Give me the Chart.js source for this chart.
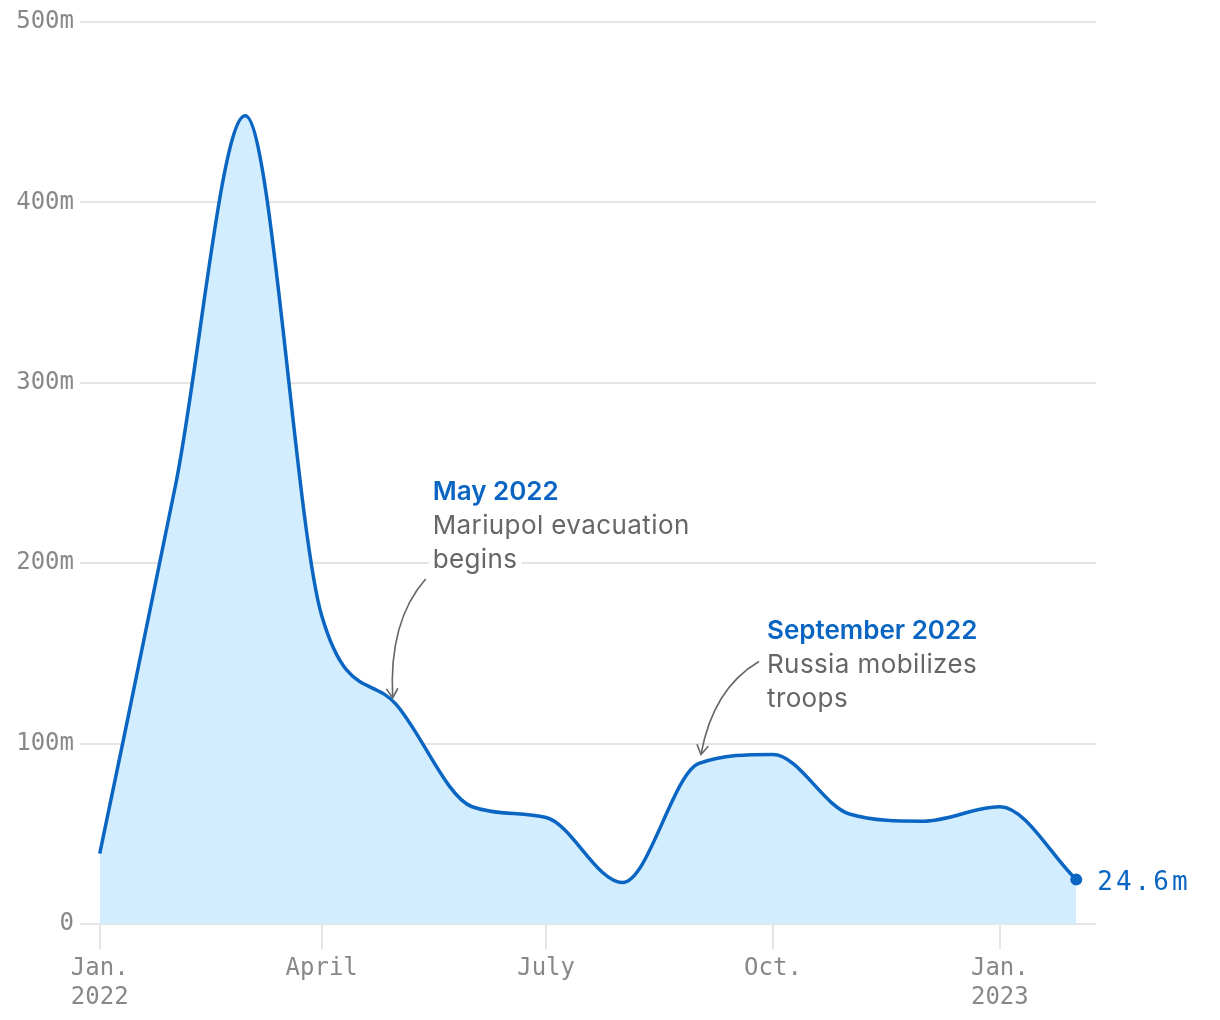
<!DOCTYPE html>
<html>
<head>
<meta charset="utf-8">
<script src="https://cdn.jsdelivr.net/npm/chart.js@4.4.0/dist/chart.umd.min.js"></script>
<style>
  html, body { margin: 0; padding: 0; background: #fff; }
  #wrap { width: 1220px; height: 1020px; position: relative; }
</style>
</head>
<body>
<div id="wrap"><canvas id="chart"></canvas></div>
<script>
// Monthly values (millions), first of each month, Jan 2022 - Feb 2023
const months = ['2022-01', '2022-02', '2022-03', '2022-04', '2022-05', '2022-06', '2022-07',
                '2022-08', '2022-09', '2022-10', '2022-11', '2022-12', '2023-01', '2023-02'];
const values = [39, 245, 448, 171, 122, 65, 59, 23, 89, 94, 61, 57, 65, 24.6];

// x-axis ticks
const tickMonths = ['2022-01', '2022-04', '2022-07', '2022-10', '2023-01'];
const tickLabels = [['Jan.', '2022'], 'April', 'July', 'Oct.', ['Jan.', '2023']];

// y-axis ticks
const yTicks = [0, 100, 200, 300, 400, 500];
const yTickLabels = ['0', '100m', '200m', '300m', '400m', '500m'];

// Annotations
const notes = [
    { month: '2022-05', title: 'May 2022', lines: ['Mariupol evacuation', 'begins'] },
    { month: '2022-09', title: 'September 2022', lines: ['Russia mobilizes', 'troops'] },
];

const endLabel = '24.6m';

// days since Jan 1 2022
function dayOf(m) {
    const [y, mo] = m.split('-').map(Number);
    return (Date.UTC(y, mo - 1, 1) - Date.UTC(2022, 0, 1)) / 86400000;
}

const points = months.map((m, i) => ({ x: dayOf(m), y: values[i] }));
const tickDays = tickMonths.map(dayOf);

const BLUE = '#0a66c2';
const GRID = '#e4e4e4';
const MONO = '"DejaVu Sans Mono", monospace';
const SANS = 'Inter, "Noto Sans", sans-serif';

// positions of annotation pieces relative to the data point
const noteLayout = {
    '2022-05': { tx: 37, ty: -212, arrow: { sx: 30, sy: -125, cx: -7, cy: -83, ex: -3, ey: -6 } },
    '2022-09': { tx: 68, ty: -132, arrow: { sx: 60, sy: -102, cx: 14, cy: -75, ex: 2, ey: -9 } },
};

const annotationPlugin = {
    id: 'notes',
    afterDatasetsDraw(chart) {
        const ctx = chart.ctx;
        const xs = chart.scales.x;
        const ys = chart.scales.y;
        ctx.save();

        notes.forEach((n) => {
            const i = months.indexOf(n.month);
            const px = xs.getPixelForValue(points[i].x);
            const py = ys.getPixelForValue(points[i].y);
            const L = noteLayout[n.month];

            // text with white knockout
            const allLines = [n.title].concat(n.lines);
            ctx.textBaseline = 'middle';
            ctx.textAlign = 'left';
            allLines.forEach((t, k) => {
                ctx.letterSpacing = k === 0 ? '0px' : '0.4px';
                ctx.font = (k === 0 ? '600 ' : '400 ') + '26px ' + SANS;
                const w = ctx.measureText(t).width;
                const ly = py + L.ty + k * 34;
                ctx.fillStyle = '#fff';
                ctx.fillRect(px + L.tx - 4, ly - 15, w + 8, 30);
                ctx.fillStyle = k === 0 ? BLUE : '#666';
                ctx.fillText(t, px + L.tx, ly);
            });
            ctx.letterSpacing = '0px';

            // curved arrow
            const a = L.arrow;
            const sx = px + a.sx, sy = py + a.sy;
            const cx = px + a.cx, cy = py + a.cy;
            const ex = px + a.ex, ey = py + a.ey;
            ctx.strokeStyle = '#666';
            ctx.lineWidth = 1.6;
            ctx.beginPath();
            ctx.moveTo(sx, sy);
            ctx.quadraticCurveTo(cx, cy, ex, ey);
            ctx.stroke();
            const ang = Math.atan2(ey - cy, ex - cx);
            const hl = 11;
            ctx.beginPath();
            ctx.moveTo(ex - hl * Math.cos(ang - 0.55), ey - hl * Math.sin(ang - 0.55));
            ctx.lineTo(ex, ey);
            ctx.lineTo(ex - hl * Math.cos(ang + 0.55), ey - hl * Math.sin(ang + 0.55));
            ctx.stroke();
        });

        // end value label
        const last = points[points.length - 1];
        const lx = xs.getPixelForValue(last.x);
        const ly = ys.getPixelForValue(last.y);
        ctx.font = '26px ' + MONO;
        ctx.letterSpacing = '3px';
        ctx.fillStyle = BLUE;
        ctx.textAlign = 'left';
        ctx.textBaseline = 'middle';
        ctx.fillText(endLabel, lx + 21, ly + 4);
        ctx.restore();
    },
};

const chart = new Chart(document.getElementById('chart'), {
    type: 'line',
    data: {
        datasets: [{
            data: points,
            borderColor: BLUE,
            borderWidth: 3.5,
            backgroundColor: '#d2edfd',
            fill: 'origin',
            cubicInterpolationMode: 'monotone',
            pointRadius: (c) => (c.dataIndex === points.length - 1 ? 6 : 0),
            pointBackgroundColor: BLUE,
            pointBorderWidth: 0,
            pointHoverRadius: 0,
        }],
    },
    options: {
        responsive: true,
        maintainAspectRatio: false,
        animation: false,
        events: [],
        layout: { padding: { top: 22, right: 124, left: 0, bottom: 0 } },
        plugins: {
            legend: { display: false },
            tooltip: { enabled: false },
        },
        scales: {
            x: {
                type: 'linear',
                min: -8,
                max: 404,
                afterBuildTicks: (scale) => {
                    scale.ticks = tickDays.map((v) => ({ value: v }));
                },
                afterFit: (scale) => { scale.height = 96; },
                border: { display: false },
                grid: {
                    drawOnChartArea: false,
                    drawTicks: true,
                    tickLength: 25,
                    color: GRID,
                    lineWidth: 2,
                },
                ticks: {
                    autoSkip: false,
                    maxRotation: 0,
                    padding: 6,
                    color: '#888',
                    font: { family: MONO, size: 24, lineHeight: 1.18 },
                    callback: (v) => tickLabels[tickDays.indexOf(v)],
                },
            },
            y: {
                min: 0,
                max: 500,
                afterBuildTicks: (scale) => {
                    scale.ticks = yTicks.map((v) => ({ value: v }));
                },
                afterFit: (scale) => { scale.width = 80; },
                border: { display: false },
                grid: {
                    drawTicks: false,
                    color: GRID,
                    lineWidth: 2,
                },
                ticks: {
                    padding: 6,
                    color: '#888',
                    font: { family: MONO, size: 24 },
                    callback: (v) => yTickLabels[yTicks.indexOf(v)],
                },
            },
        },
    },
    plugins: [annotationPlugin],
});
</script>
</body>
</html>
